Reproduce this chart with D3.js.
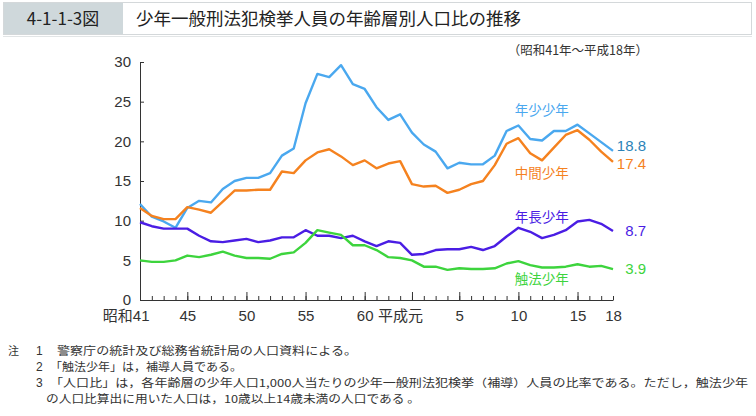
<!DOCTYPE html>
<html><head><meta charset="utf-8">
<script src="https://cdn.jsdelivr.net/npm/d3@7"></script>
<style>
html,body{margin:0;padding:0;background:#fff;}
svg{display:block;}
</style></head>
<body><svg id="c" width="756" height="416"></svg>
<script>
// ---- data (昭和41年〜平成18年, 41 years) ----
const years = d3.range(41); // index 0 = 昭和41 (1966) ... 40 = 平成18 (2006)
const juvenileYoung = [12.1,10.5,9.9,9.1,11.6,12.5,12.3,14.0,15.0,15.4,15.4,16.0,18.2,19.1,24.8,28.5,28.1,29.6,27.2,26.6,24.3,22.7,23.4,21.1,19.6,18.7,16.6,17.3,17.1,17.1,18.2,21.3,22.0,20.3,20.1,21.3,21.3,22.1,21.0,19.9,18.8];
const juvenileMiddle = [11.6,10.6,10.2,10.2,11.7,11.4,11.0,12.4,13.8,13.8,13.9,13.9,16.2,16.0,17.6,18.6,19.0,18.1,17.0,17.6,16.6,17.2,17.5,14.6,14.3,14.4,13.5,13.9,14.6,15.0,17.0,19.7,20.4,18.5,17.6,19.2,20.8,21.4,20.2,18.7,17.4];
const juvenileOlder = [9.8,9.3,9.0,9.0,9.0,8.1,7.4,7.3,7.5,7.7,7.3,7.5,7.9,7.9,8.8,8.1,8.1,7.8,8.1,7.4,6.8,7.4,7.2,5.7,5.8,6.3,6.4,6.4,6.7,6.3,6.8,8.0,9.1,8.6,7.8,8.2,8.8,9.9,10.1,9.6,8.7];
const lawViolating = [5.0,4.8,4.8,5.0,5.6,5.4,5.7,6.1,5.6,5.3,5.3,5.2,5.8,6.0,7.2,8.8,8.5,8.2,6.9,6.9,6.3,5.4,5.3,5.0,4.2,4.2,3.8,4.0,3.9,3.9,4.0,4.6,4.9,4.4,4.1,4.1,4.2,4.5,4.2,4.3,3.9];
const seriesNames = ['年少少年','中間少年','年長少年','触法少年'];
const endLabels = ['18.8','17.4','8.7','3.9'];
const yTicks = [0,5,10,15,20,25,30];
const xTickIdx = [0,4,9,14,19,23,27,32,37,40];
const xTickLabels = ['昭和41','45','50','55','60','平成元','5','10','15','18'];
const titleNo = '4-1-1-3図';
const titleText = '少年一般刑法犯検挙人員の年齢層別人口比の推移';
const subtitle = '（昭和41年～平成18年）';
const noteHead = '注';
const noteNums = ['1','2','3',''];
const noteLines = [
  '警察庁の統計及び総務省統計局の人口資料による。',
  '「触法少年」は，補導人員である。',
  '「人口比」は，各年齢層の少年人口1,000人当たりの少年一般刑法犯検挙（補導）人員の比率である。ただし，触法少年',
  'の人口比算出に用いた人口は，10歳以上14歳未満の人口である 。'
];

// ---- styles ----
const lineColors = ['#4aa8ef','#f5821f','#4a1de4','#3dd43d'];
const endColors = ['#2b83b8','#f5821f','#4a1de4','#3dd43d'];
const numFont = '"Liberation Sans", Arial, "Noto Sans CJK JP", sans-serif';
const cjkFont = '"Noto Sans CJK JP", "Noto Sans", sans-serif';

const svg = d3.select('#c');

// title banner
svg.append('rect').attr('x',3.5).attr('y',2.5).attr('width',748).attr('height',32)
  .attr('fill','#fff').attr('stroke','#d4d8da');
svg.append('rect').attr('x',4).attr('y',3).attr('width',119).attr('height',31).attr('fill','#cfd8db');
svg.append('text').attr('x',63).attr('y',25).attr('text-anchor','middle')
  .attr('font-family',cjkFont).attr('font-size',17).attr('fill','#222').text(titleNo);
svg.append('text').attr('x',136).attr('y',25)
  .attr('font-family',cjkFont).attr('font-size',17.5).attr('fill','#222').text(titleText);
svg.append('line').attr('x1',3).attr('x2',752).attr('y1',36.5).attr('y2',36.5).attr('stroke','#e2e5e6');

// subtitle
svg.append('text').attr('x',648).attr('y',55).attr('text-anchor','end')
  .attr('font-family',cjkFont).attr('font-size',12.5).attr('fill','#333').text(subtitle);

// scales
const x = d3.scaleLinear().domain([0,40]).range([140,613]);
const y = d3.scaleLinear().domain([0,30]).range([300,62]);

// y axis
const gy = svg.append('g').attr('transform','translate(140,0)')
  .call(d3.axisLeft(y).tickValues(yTicks).tickSizeInner(-4).tickSizeOuter(0).tickPadding(9));
gy.selectAll('text').attr('font-family',numFont).attr('font-size',15).attr('fill','#333');
gy.selectAll('line,path').attr('stroke','#333');

// x axis minor ticks
const gxm = svg.append('g').attr('transform','translate(0,300)')
  .call(d3.axisBottom(x).tickValues(years.slice(1)).tickSizeInner(-4).tickSizeOuter(0).tickFormat(''));
gxm.selectAll('line,path').attr('stroke','#333');
// x axis major ticks + labels
const gx = svg.append('g').attr('transform','translate(0,300)')
  .call(d3.axisBottom(x).tickValues(xTickIdx).tickSizeInner(-8).tickSizeOuter(0).tickPadding(10)
    .tickFormat((d,i)=>xTickLabels[i]));
gx.select('path').remove();
gx.selectAll('line').attr('stroke','#333').filter(d=>d===0||d===40).remove();
gx.selectAll('text').attr('font-family',numFont).attr('font-size',15).attr('fill','#333')
  .attr('dy','0.72em');
gx.selectAll('.tick').filter(d=>d===0).select('text').attr('text-anchor','end').attr('x',9);
gx.selectAll('.tick').filter(d=>d===23).select('text').attr('x',-12);

// lines
const allSeries = [juvenileYoung, juvenileMiddle, juvenileOlder, lawViolating];
const line = d3.line().x((d,i)=>x(i)).y(d=>y(d));
allSeries.forEach((s,k)=>{
  svg.append('path').datum(s).attr('d',line).attr('fill','none')
    .attr('stroke',lineColors[k]).attr('stroke-width',2.4).attr('stroke-linejoin','round');
});

// series name labels
const nameLabelVal = [24.0, 16.0, 10.4, 2.7];
seriesNames.forEach((n,k)=>{
  svg.append('text').attr('x',x(31.7)).attr('y',y(nameLabelVal[k])+5)
    .attr('font-family',cjkFont).attr('font-size',13.5).attr('fill',lineColors[k]).text(n);
});
// end value labels
const endOffset = [-5, 2, 0, 0];
endLabels.forEach((t,k)=>{
  const s = allSeries[k];
  svg.append('text').attr('x',646).attr('y',y(s[s.length-1])+5+endOffset[k]).attr('text-anchor','end')
    .attr('font-family',numFont).attr('font-size',15).attr('fill',endColors[k]).text(t);
});

// notes
const noteY = [355,371,387,403];
const noteX = [57,50,50,46];
const noteLen = [300,192,698,374];
svg.append('text').attr('x',8).attr('y',noteY[0]).attr('font-family',cjkFont)
  .attr('font-size',11).attr('fill','#333').text(noteHead);
noteLines.forEach((t,i)=>{
  if(noteNums[i]) svg.append('text').attr('x',36).attr('y',noteY[i]).attr('font-family',numFont)
    .attr('font-size',12).attr('fill','#333').text(noteNums[i]);
  svg.append('text').attr('x',noteX[i]).attr('y',noteY[i]).attr('font-family',cjkFont)
    .attr('font-size',11).attr('fill','#333').attr('textLength',noteLen[i])
    .attr('lengthAdjust','spacingAndGlyphs').text(t);
});
</script></body></html>
